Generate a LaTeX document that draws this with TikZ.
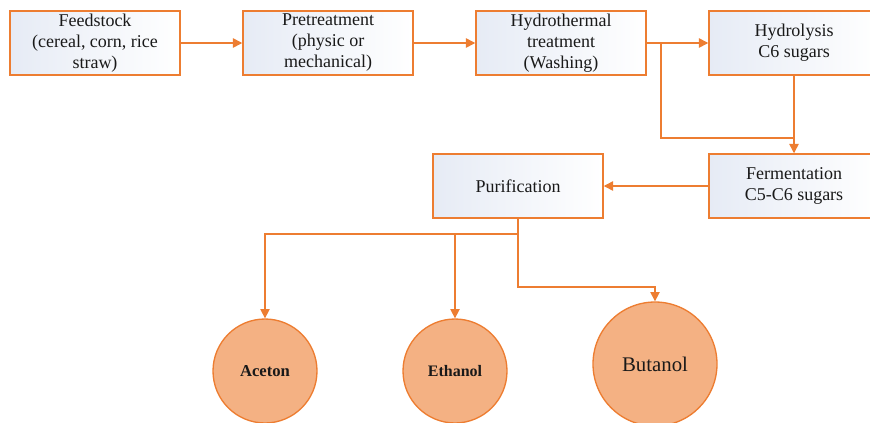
\documentclass[tikz,border=0pt]{standalone}
\usepackage{fontspec}
\setmainfont{Liberation Serif}
\usetikzlibrary{arrows.meta}

\definecolor{lineor}{HTML}{ED7D31}
\definecolor{prodfill}{HTML}{F4B183}
\definecolor{boxtint}{HTML}{E6EBF5}

\tikzset{
  procbox/.style={draw=lineor, line width=1.1pt, left color=boxtint, right color=white,
    minimum width=127.5pt, minimum height=48pt, inner sep=2pt, align=center,
    font=\fontsize{13.5}{15.75}\selectfont, text=black!90},
  product/.style={circle, draw=lineor, line width=1pt, fill=prodfill, inner sep=0pt,
    text=black!90},
  flow/.style={lineor, line width=1.1pt, -{Triangle[length=7pt,width=7pt]}},
  plain/.style={lineor, line width=1.1pt}
}

\begin{document}
\begin{tikzpicture}[x=0.75pt,y=-0.75pt]
\useasboundingbox (0,0) rectangle (870,422);
\clip (0,0) rectangle (870,422);

% process boxes
\node[procbox] (feed) at (95,43) {Feedstock\\(cereal, corn, rice\\straw)};
\node[procbox] (pre) at (328,43) {Pretreatment\\(physic or\\mechanical)};
\node[procbox] (hydro) at (561,43) {Hydrothermal\\treatment\\(Washing)};
\node[procbox] (hydrol) at (794,43) {Hydrolysis\\C6 sugars};
\node[procbox] (ferm) at (794,186) {Fermentation\\C5-C6 sugars};
\node[procbox] (puri) at (518,186) {Purification};

% products
\node[product, minimum size=78pt, font=\fontsize{12.5}{14}\selectfont\bfseries] (aceton) at (265,371) {Aceton};
\node[product, minimum size=78pt, font=\fontsize{12}{14}\selectfont\bfseries] (ethanol) at (455,371) {Ethanol};
\node[product, minimum size=93pt, font=\fontsize{15.6}{18}\selectfont] (butanol) at (655,364) {Butanol};

% main line
\draw[flow] (feed) -- (pre);
\draw[flow] (pre) -- (hydro);
\draw[flow] (hydro) -- (hydrol);
\draw[flow] (hydrol) -- (ferm);
\draw[flow] (ferm) -- (puri);

% bypass to fermentation
\coordinate (split) at (661,43);
\coordinate (merge) at (794,138);
\draw[plain] (split) |- (merge);

% products
\coordinate (fork) at (518,234);
\coordinate (bbend) at (655,287);
\draw[plain] (puri.south) -- (fork);
\draw[flow] (fork) -| (aceton.north);
\draw[flow] (fork) -| (ethanol.north);
\draw[flow] (fork) |- (bbend) -- (butanol.north);
\end{tikzpicture}
\end{document}
